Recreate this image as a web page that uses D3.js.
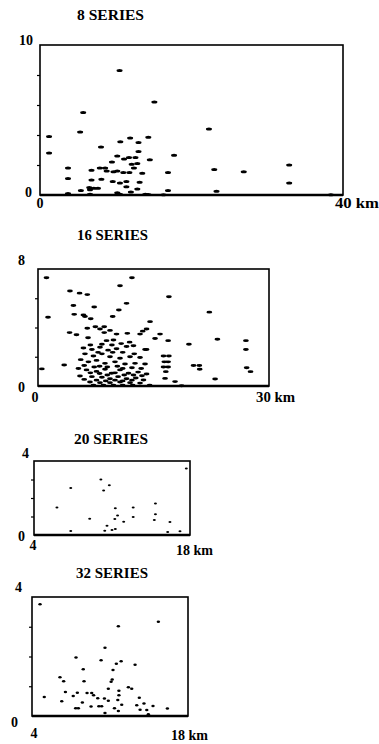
<!DOCTYPE html>
<html><head><meta charset="utf-8">
<script src="https://cdn.jsdelivr.net/npm/d3@7"></script>
<style>
html,body{margin:0;padding:0;background:#fff;}
svg{display:block;}
text{font-family:"Liberation Serif","Times New Roman",serif;font-weight:bold;fill:#000;}
</style></head>
<body>
<script>
// ---- data: [distance km, value] ----
const series8 = [[10.5,8.3],[15.1,6.2],[5.7,5.5],[5.3,4.2],[1.2,3.9],[1.2,2.8],[8.05,3.2],[10.6,3.55],[11.9,3.8],[13.0,3.5],[14.3,3.85],[13.0,2.9],[17.7,2.65],[10.2,2.6],[11.75,2.5],[11.1,2.4],[12.6,2.5],[14.5,2.35],[9.5,2.2],[12.85,2.1],[12.1,2.05],[3.7,1.8],[6.8,1.65],[7.9,1.8],[8.6,1.8],[8.8,1.6],[9.7,1.55],[10.2,1.6],[11.0,1.5],[11.8,1.5],[12.4,1.8],[13.5,1.45],[16.9,1.5],[3.7,1.1],[6.8,1.0],[8.1,1.05],[9.6,0.9],[10.55,0.8],[11.4,0.9],[13.15,0.85],[6.5,0.5],[7.1,0.45],[7.65,0.45],[6.6,0.35],[5.4,0.3],[11.4,0.55],[12.85,0.4],[12.0,0.2],[16.9,0.3],[3.7,0.1],[10.2,0.15],[10.55,0.05],[13.9,0.05],[14.3,0.03],[16.3,0.02],[6.6,0.05],[22.3,4.4],[23.0,1.7],[26.9,1.55],[32.9,2.0],[32.9,0.8],[23.3,0.25],[38.4,0.02]];
const series16 = [[1.1,7.4],[12.2,7.4],[10.65,6.85],[4.15,6.5],[5.4,6.35],[6.4,6.25],[17.0,6.1],[11.5,5.65],[4.6,5.5],[7.3,5.4],[10.5,5.2],[22.25,5.05],[4.7,4.9],[5.9,4.85],[1.3,4.7],[6.1,4.75],[6.85,4.6],[9.7,4.75],[14.55,4.4],[13.6,3.75],
[4.1,3.65],[5.0,3.5],[6.4,3.95],[7.45,4.05],[8.6,4.05],[8.05,3.9],[8.6,3.65],[9.35,3.8],[10.2,3.55],[11.6,3.6],[13.25,3.55],[14.1,3.9],[15.2,3.25],[15.85,3.55],[16.9,3.1],[19.6,2.85],[23.3,3.2],[27.0,3.1],[27.0,2.5],[6.5,3.3],[8.9,3.1],[9.8,3.15],[11.9,3.0],[13.9,2.5],
[5.9,2.6],[7.0,2.5],[8.05,2.65],[9.1,2.45],[10.2,2.55],[11.5,2.7],[14.1,2.5],[6.1,2.2],[7.2,2.05],[8.3,2.2],[9.35,2.0],[10.65,1.9],[11.95,2.0],[13.25,1.95],[16.3,2.05],[17.0,2.05],[5.55,1.8],[6.55,1.65],[7.6,1.75],[8.7,1.55],[10.0,1.65],[11.3,1.5],[12.6,1.55],[13.9,1.5],[16.4,1.65],[16.9,1.65],[3.4,1.44],[0.5,1.17],[20.2,1.4],[20.95,1.4],[21.0,1.15],[27.1,1.25],[27.6,0.98],[16.3,1.3],[16.9,1.3],[5.25,1.2],[6.3,1.1],[7.6,1.0],[8.7,1.15],[9.55,0.87],[10.65,1.1],[11.75,0.87],[13.0,0.95],[14.1,0.82],[16.6,0.98],[5.45,0.68],[7.0,0.64],[8.3,0.6],[9.35,0.5],[10.4,0.64],[11.5,0.5],[12.7,0.55],[13.7,0.41],[16.5,0.52],[23.0,0.48],[6.75,0.27],[8.05,0.23],[9.35,0.23],[10.65,0.27],[11.95,0.23],[13.25,0.2],[17.8,0.3],[18.65,0.02],[7.2,0.05],[8.5,0.05],[9.8,0.05],[11.0,0.05],[12.3,0.05],[14.5,0.05],
[6.0,1.4],[7.3,1.3],[8.0,1.35],[9.0,1.3],[10.3,1.35],[11.0,1.2],[12.2,1.25],[13.4,1.2],[6.8,0.9],[8.0,0.85],[9.0,0.75],[10.0,0.9],[11.2,0.75],[12.4,0.75],[13.5,0.7],[6.0,0.45],[7.6,0.4],[8.8,0.35],[10.0,0.4],[11.0,0.35],[12.2,0.4],[7.8,2.3],[9.7,2.3],[11.0,2.3],[12.5,2.2],[6.8,2.8],[8.3,2.85],[9.6,2.8],[10.8,2.9],[12.4,2.75]];
const series20 = [[17.67,3.6],[10.0,3.0],[7.3,2.54],[10.76,2.69],[10.25,2.4],[6.06,1.48],[11.3,1.44],[12.9,1.48],[14.9,1.7],[14.9,1.12],[9.0,0.88],[11.5,1.06],[11.25,0.86],[12.9,0.97],[12.05,0.72],[14.8,0.81],[16.2,0.7],[10.55,0.5],[7.3,0.22],[10.35,0.23],[11.0,0.27],[11.3,0.32],[16.0,0.16],[17.1,0.2]];
const series32 = [[4.72,3.76],[15.34,3.17],[11.75,3.02],[10.55,2.29],[7.95,1.97],[10.2,1.87],[12.0,1.84],[11.57,1.76],[13.25,1.72],[8.6,1.57],[11.27,1.55],[6.51,1.3],[6.84,1.17],[8.67,1.17],[11.2,1.23],[11.1,1.15],[10.85,0.92],[12.65,0.97],[12.95,0.92],[5.1,0.64],[7.0,0.81],[8.07,0.78],[8.94,0.77],[9.36,0.77],[9.53,0.7],[7.7,0.67],[9.9,0.6],[10.5,0.59],[10.85,0.51],[11.8,0.85],[11.8,0.7],[11.7,0.54],[13.63,0.61],[6.67,0.5],[8.52,0.45],[9.3,0.32],[10.0,0.33],[10.25,0.33],[10.55,0.1],[11.4,0.26],[12.05,0.38],[11.75,0.17],[13.4,0.36],[14.05,0.42],[14.86,0.34],[7.92,0.26],[8.16,0.26],[13.7,0.21],[14.3,0.2],[16.15,0.25],[14.44,0.06]];

const titles = ["8 SERIES","16 SERIES","20 SERIES","32 SERIES"];
const xDomains = [[0,40],[0,30],[4,18],[4,18]];
const yDomains = [[0,10],[0,8],[0,4],[0,4]];
const yTicks = [[2,4,6,8],[2,4,6],[1,2,3],[1,2,3]];
const xEndLabels = [["0","40 km"],["0","30 km"],["4","18 km"],["4","18 km"]];
const yEndLabels = [["0","10"],["0","8"],["0","4"],["0","4"]];
const allSeries = [series8, series16, series20, series32];

// ---- layout (pixels) ----
const layout = [
  {x0:40,x1:343,y0:195,y1:45, title:{x:77,y:20,w:67}, yTop:{x:33,dy:0}, yBot:{x:32,dy:2}, xLeft:{dx:0,y:208}, xRight:{dx:-8,y:208,w:44}, rx:3,ry:1.5},
  {x0:38,x1:269,y0:386,y1:269, title:{x:77,y:240,w:71}, yTop:{x:25,dy:-4}, yBot:{x:25,dy:6}, xLeft:{dx:-3,y:402}, xRight:{dx:-13,y:402,w:39}, rx:2.9,ry:1.45},
  {x0:34,x1:190,y0:535,y1:461, title:{x:74,y:444,w:74}, yTop:{x:29,dy:-3}, yBot:{x:25,dy:6}, xLeft:{dx:-1,y:550}, xRight:{dx:-14,y:555,w:37}, rx:1.5,ry:1.0},
  {x0:32,x1:188,y0:716,y1:597, title:{x:76,y:578,w:72}, yTop:{x:22,dy:-5}, yBot:{x:18,dy:11}, xLeft:{dx:2,y:738}, xRight:{dx:-17,y:740,w:37}, rx:1.7,ry:1.25}
];

const W = 379, H = 744;
const svg = d3.select("body").append("svg").attr("width",W).attr("height",H);
svg.append("rect").attr("width",W).attr("height",H).attr("fill","#fff");

layout.forEach((L,i)=>{
  const x = d3.scaleLinear().domain(xDomains[i]).range([L.x0,L.x1]);
  const y = d3.scaleLinear().domain(yDomains[i]).range([L.y0,L.y1]);
  const g = svg.append("g");

  g.append("text").attr("x",L.title.x).attr("y",L.title.y)
    .attr("font-size",14).attr("textLength",L.title.w).attr("lengthAdjust","spacingAndGlyphs")
    .text(titles[i]);

  g.append("rect").attr("x",x.range()[0]).attr("y",y.range()[1])
    .attr("width",x.range()[1]-x.range()[0]).attr("height",y.range()[0]-y.range()[1])
    .attr("fill","none").attr("stroke","#000").attr("stroke-width",1.6);
  g.append("line").attr("x1",x.range()[0]).attr("x2",x.range()[1])
    .attr("y1",y(yDomains[i][0])).attr("y2",y(yDomains[i][0]))
    .attr("stroke","#000").attr("stroke-width",2.4);

  const ax = g.append("g").attr("transform",`translate(${L.x0},0)`)
    .call(d3.axisLeft(y).tickValues(yTicks[i]).tickSize(3).tickFormat(""));
  ax.select(".domain").remove();
  ax.selectAll("line").attr("stroke","#000").attr("stroke-width",1.2);

  g.append("text").attr("x",L.yBot.x).attr("y",y(yDomains[i][0])+L.yBot.dy)
    .attr("text-anchor","end").attr("font-size",14).text(yEndLabels[i][0]);
  g.append("text").attr("x",L.yTop.x).attr("y",y(yDomains[i][1])+L.yTop.dy)
    .attr("text-anchor","end").attr("font-size",14).text(yEndLabels[i][1]);

  g.append("text").attr("x",x(xDomains[i][0])+L.xLeft.dx).attr("y",L.xLeft.y)
    .attr("text-anchor","middle").attr("font-size",14).text(xEndLabels[i][0]);
  g.append("text").attr("x",x(xDomains[i][1])+L.xRight.dx).attr("y",L.xRight.y)
    .attr("font-size",14).attr("textLength",L.xRight.w).attr("lengthAdjust","spacingAndGlyphs")
    .text(xEndLabels[i][1]);

  g.append("g").selectAll("ellipse").data(allSeries[i]).join("ellipse")
    .attr("cx",d=>x(d[0])).attr("cy",d=>y(d[1]))
    .attr("rx",L.rx).attr("ry",L.ry).attr("fill","#000");
});
</script>
</body></html>
